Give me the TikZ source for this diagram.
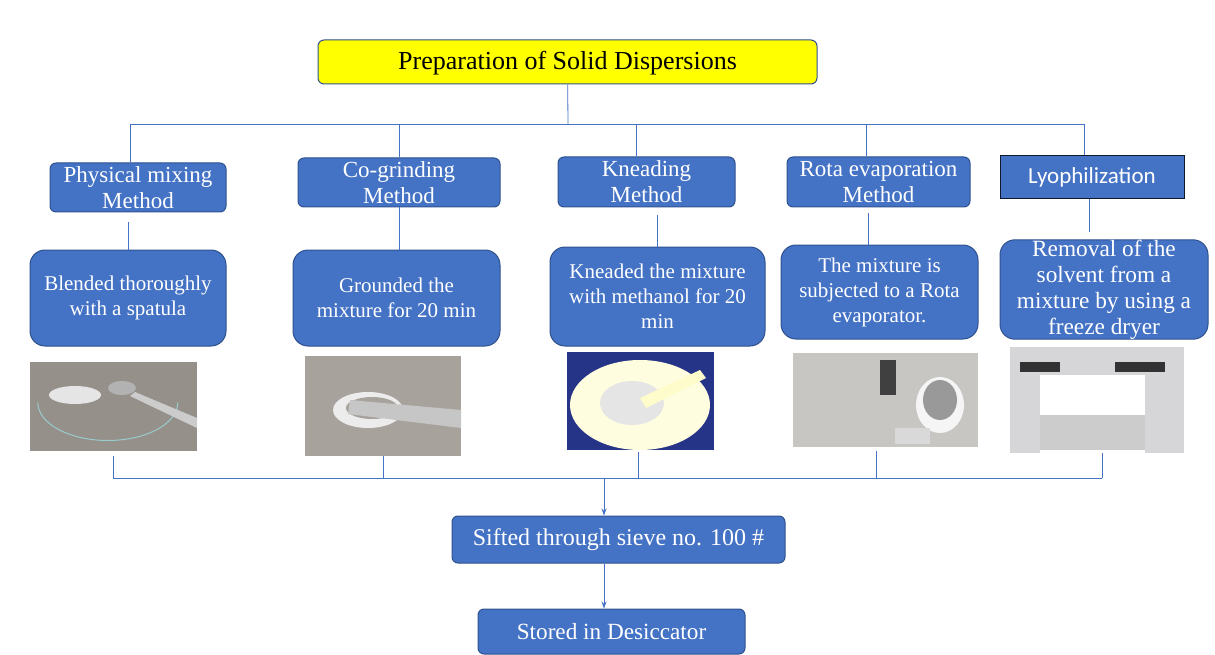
\documentclass[tikz,border=0pt]{standalone}
\usepackage{fontspec}
\setmainfont{Liberation Serif}
\newfontfamily\calibri{Carlito}
\usepackage{xcolor}
\usetikzlibrary{arrows.meta}

\definecolor{boxblue}{HTML}{4472C4}
\definecolor{boxedge}{HTML}{2F528F}
\definecolor{titlefill}{HTML}{FFFF00}
\definecolor{dishgray}{RGB}{150,144,138}
\definecolor{mortargray}{RGB}{168,162,156}
\definecolor{kneadblue}{RGB}{38,52,135}
\definecolor{labgray}{RGB}{200,198,194}
\definecolor{dryergray}{RGB}{214,214,216}

\tikzset{
  head/.style={draw=boxedge, fill=titlefill, rounded corners=6pt, line width=1pt,
    minimum width=499pt, minimum height=44pt, text depth=3pt, font=\fontsize{26}{30}\selectfont},
  method/.style={draw=boxedge, fill=boxblue, text=white, rounded corners=6pt, line width=1pt,
    align=center, inner sep=0pt, font=\fontsize{23}{26}\selectfont},
  desc/.style={draw=boxedge, fill=boxblue, text=white, rounded corners=15pt, line width=1pt,
    align=center, inner sep=0pt, font=\fontsize{21}{25}\selectfont},
  result/.style={draw=boxedge, fill=boxblue, text=white, rounded corners=6pt, line width=1pt,
    align=center, inner sep=0pt, font=\fontsize{24}{27}\selectfont},
  photo/.style={inner sep=0pt},
  link/.style={draw=boxblue, line width=0.8pt},
  flow/.style={link, -{Stealth[length=7pt,width=5pt]}}
}

\begin{document}
\begin{tikzpicture}[x=1pt, y=-1pt]
  \useasboundingbox (0,0) rectangle (1215,655) ; %

  \node[head] (title) at (567.5,62) {Preparation of Solid Dispersions} ; %

  % methods
  \node[method, minimum width=176pt, minimum height=49pt] (mix) at (138,187.5) {Physical mixing\\Method} ; %
  \node[method, minimum width=202pt, minimum height=49pt] (grind) at (399,182.5) {Co-grinding\\Method} ; %
  \node[method, minimum width=177pt, minimum height=50pt] (knead) at (646.5,182) {Kneading\\Method} ; %
  \node[method, minimum width=183pt, minimum height=50pt] (rota) at (878.5,182) {Rota evaporation\\Method} ; %
  \node[method, rounded corners=0pt, draw=black!70!boxedge, minimum width=184pt, minimum height=43pt,
    font=\calibri\fontsize{23}{26}\selectfont] (lyo) at (1092,177.5) {Lyophilization} ; %

  % what each method does
  \node[desc, minimum width=196pt, minimum height=96pt] (mixD) at (128,298) {Blended thoroughly\\with a spatula} ; %
  \node[desc, minimum width=207pt, minimum height=96pt] (grindD) at (396.5,298) {Grounded the\\mixture for 20 min} ; %
  \node[desc, minimum width=215pt, minimum height=99pt] (kneadD) at (657.5,296.5) {Kneaded the mixture\\with methanol for 20\\min} ; %
  \node[desc, minimum width=197pt, minimum height=94pt] (rotaD) at (879.5,292) {The mixture is\\subjected to a Rota\\evaporator.} ; %
  \node[desc, minimum width=208pt, minimum height=99pt, font=\fontsize{23.3}{26}\selectfont] (lyoD) at (1104,289.5)
    {Removal of the\\solvent from a\\mixture by using a\\freeze dryer} ; %

  % photos
  \node[photo, fill=dishgray, minimum width=167pt, minimum height=89pt] (mixP) at (113.5,406.5) {} ; %
  \fill[white!80!gray] (75,395) ellipse (26pt and 9pt) ; %
  \fill[gray!60] (122,388) ellipse (14pt and 7pt) ; %
  \draw[teal!40, line width=1pt] (mixP.west) ++(8,-4) arc (180:360:70pt and 38pt) ; %
  \fill[gray!40] (135,392) -- (197,418) -- (197,428) -- (130,396) -- cycle ; %

  \node[photo, fill=mortargray, minimum width=156pt, minimum height=100pt] (grindP) at (383,406) {} ; %
  \fill[white!85!gray] (368,410) ellipse (35pt and 18pt) ; %
  \fill[mortargray] (372,408) ellipse (26pt and 11pt) ; %
  \fill[gray!45] (350,400) -- (461,410) -- (461,428) -- (348,414) -- cycle ; %

  \node[photo, fill=kneadblue, minimum width=147pt, minimum height=98pt] (kneadP) at (640.5,401) {} ; %
  \fill[white!88!yellow] (640,405) ellipse (70pt and 45pt) ; %
  \fill[gray!20] (632,403) ellipse (32pt and 22pt) ; %
  \fill[white!80!yellow] (640,398) -- (700,370) -- (706,378) -- (646,408) -- cycle ; %

  \node[photo, fill=labgray, minimum width=185pt, minimum height=94pt] (rotaP) at (885.5,400) {} ; %
  \fill[black!75] (880,360) rectangle (896,395) ; %
  \fill[white!92!gray] (940,405) ellipse (24pt and 28pt) ; %
  \fill[gray!80] (940,400) ellipse (17pt and 20pt) ; %
  \fill[gray!30] (895,428) rectangle (930,444) ; %

  \node[photo, fill=dryergray, minimum width=174pt, minimum height=106pt] (lyoP) at (1097,400) {} ; %
  \fill[white] (1040,375) rectangle (1145,453) ; %
  \fill[gray!40] (1040,415) rectangle (1145,450) ; %
  \fill[black!80] (1020,362) rectangle (1060,372) ; %
  \fill[black!80] (1115,362) rectangle (1165,372) ; %

  \node[result, minimum width=333pt, minimum height=47pt] (sieve) at (618.5,539.5) {Sifted through sieve no. 100 \#} ; %
  \node[result, minimum width=267pt, minimum height=45pt, font=\fontsize{23.2}{27}\selectfont] (store) at (611.5,631.5) {Stored in Desiccator} ; %

  % top bus
  \coordinate (top) at (568,124) ; %
  \coordinate (t1) at (130,124) ; %
  \coordinate (t2) at (399,124) ; %
  \coordinate (t3) at (636,124) ; %
  \coordinate (t4) at (866,124) ; %
  \coordinate (t5) at (1084,124) ; %
  \draw[link] (title) -- (top) ; %
  \draw[link] (t1) -- (t5) ; %
  \draw[link] (t1) -- (t1 |- mix.north) ; %
  \draw[link] (t2) -- (t2 |- grind.north) ; %
  \draw[link] (t3) -- (t3 |- knead.north) ; %
  \draw[link] (t4) -- (t4 |- rota.north) ; %
  \draw[link] (t5) -- (t5 |- lyo.north) ; %

  % method to description
  \draw[link, shorten <=10pt] (mix.south -| mixD.north) -- (mixD.north) ; %
  \draw[link] (grind.south) -- (grind.south |- grindD.north) ; %
  \draw[link, shorten <=8pt] (knead.south -| kneadD.north) -- (kneadD.north) ; %
  \draw[link, shorten <=6pt] (rota.south -| 868,0) -- (868,0 |- rotaD.north) ; %
  \draw[link, shorten >=7pt] (lyo.south -| 1089,0) -- (1089,0 |- lyoD.north) ; %

  % bottom bus
  \coordinate (bus) at (604,478) ; %
  \coordinate (b1) at (113,478) ; %
  \coordinate (b5) at (1102,478) ; %
  \draw[link] (b1) -- (b5) ; %
  \draw[link, shorten <=5pt] (mixP.south) -- (mixP.south |- bus) ; %
  \draw[link] (grindP.south) -- (grindP.south |- bus) ; %
  \draw[link, shorten <=2pt] (638,0 |- kneadP.south) -- (638,0 |- bus) ; %
  \draw[link, shorten <=4pt] (876,0 |- rotaP.south) -- (876,0 |- bus) ; %
  \draw[link] (1102,0 |- lyoP.south) -- (b5) ; %

  \draw[flow] (bus) -- (bus |- sieve.north) ; %
  \draw[flow] (bus |- sieve.south) -- (bus |- store.north) ; %

\end{tikzpicture}
\end{document}
